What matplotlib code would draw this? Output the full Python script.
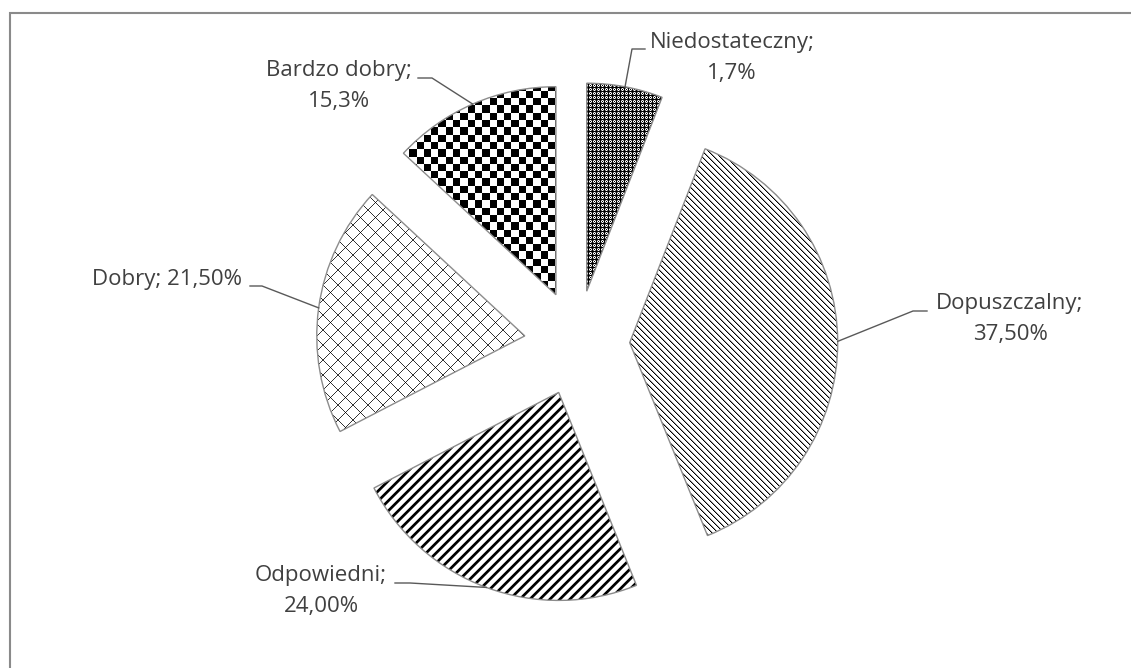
import matplotlib
matplotlib.use("Agg")
import matplotlib.pyplot as plt
import numpy as np
from matplotlib.patches import Rectangle

W, H = 1131, 668

categories = ["Niedostateczny", "Dopuszczalny", "Odpowiedni", "Dobry", "Bardzo dobry"]
printed = ["1,7%", "37,50%", "24,00%", "21,50%", "15,3%"]
# slice sizes as they are drawn in the picture (the printed labels do not add up to the drawing)
shares = [5.9, 38.0, 23.5, 19.5, 13.1]
separators = ["\n", "\n", "\n", " ", "\n"]

# layout in pixels from top-left: label centre, leader knee, leader end
label_pos = [(732, 58), (1010, 319), (321, 591), (167, 279), (339, 86)]
knees = [(632, 49), (913, 311), (410, 583), (262, 286), (432, 78)]
ends = [(645, 49), (927, 311), (395, 583), (250, 286), (418, 78)]

plt.rcParams["font.family"] = ["Open Sans", "DejaVu Sans"]

# pixel grids for the fill patterns (y counted upward, like the axes)
iy, ix = np.mgrid[0:H, 0:W]


def pattern(name):
    img = np.ones((H, W))
    if name == "dense":
        m = ((ix % 4 == 0) | (iy % 4 == 0) | ((ix % 4 == 2) & (iy % 4 == 2)))
        img[((ix % 4 == 1) | (ix % 4 == 3)) & ((iy % 4 == 1) | (iy % 4 == 3))] = 0.45
        img[m] = 0.0
    elif name == "thin_back":
        d = (ix + iy) % 6
        img[d == 0] = 0.0
        img[d == 1] = 0.6
    elif name == "thick_fwd":
        d = (ix - iy) % 10
        img[d < 3] = 0.0
        img[d == 3] = 0.45
        img[d == 9] = 0.7
    elif name == "lattice":
        a = (ix + iy) % 15
        b = (ix - iy) % 15
        img[(a == 0) | (b == 0)] = 0.2
        img[(a == 0) & (b == 0)] = 0.0
    elif name == "checker":
        img = ((np.floor(ix / 7.3) + np.floor(iy / 7.3)) % 2).astype(float)
    return img


fills = ["dense", "thin_back", "thick_fwd", "lattice", "checker"]

fig = plt.figure(figsize=(W / 100, H / 100), dpi=100)
ax = fig.add_axes([0, 0, 1, 1])


def px(x, y):
    return x, H - y


# explode is given in data units (pixels here)
wedges, _ = ax.pie(shares, startangle=90, counterclock=False,
                   radius=208, center=px(577, 343),
                   explode=[52.7] * len(shares),
                   wedgeprops=dict(facecolor="none", edgecolor="#8c8c8c", linewidth=1.0))
ax.set_aspect("equal")
ax.axis("off")

for w, f in zip(wedges, fills):
    w.set_zorder(3)
    im = ax.imshow(pattern(f), cmap="gray", vmin=0, vmax=1, extent=[0, W, 0, H],
                   origin="lower", interpolation="nearest", zorder=1)
    im.set_clip_path(w)

ax.set_xlim(0, W)
ax.set_ylim(0, H)

for i, w in enumerate(wedges):
    mid = np.deg2rad((w.theta1 + w.theta2) / 2)
    arc_pt = (w.center[0] + w.r * np.cos(mid), w.center[1] + w.r * np.sin(mid))
    kx, ky = px(*knees[i])
    ex, ey = px(*ends[i])
    ax.plot([arc_pt[0], kx, ex], [arc_pt[1], ky, ey], color="#595959", lw=1.0, zorder=4)
    tx, ty = px(*label_pos[i])
    ax.text(tx, ty, categories[i] + ";" + separators[i] + printed[i],
            ha="center", va="center", multialignment="center",
            fontsize=16, color="#404040", linespacing=1.6, zorder=5)

fig.patches.append(Rectangle((9.5, -20), W + 20, H - 12.5 + 20, transform=None,
                             fill=False, edgecolor="#8a8a8a", linewidth=1.5))

fig.savefig("out.png", dpi=100)
